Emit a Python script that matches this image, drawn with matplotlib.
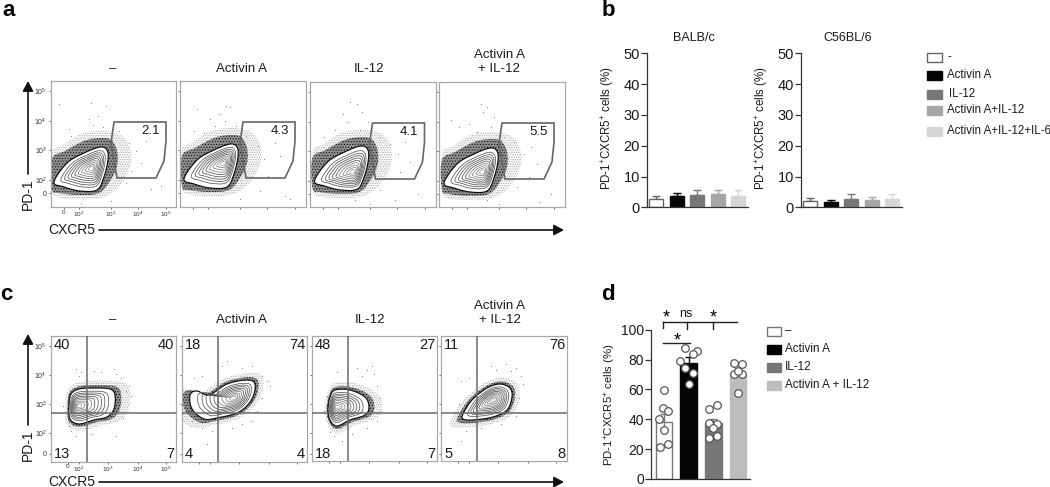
import numpy as np
import matplotlib
matplotlib.use("Agg")
import matplotlib.pyplot as plt
from matplotlib.patches import Polygon, Rectangle

plt.rcParams['font.family'] = ['Liberation Sans', 'DejaVu Sans']
plt.rcParams['mathtext.default'] = 'regular'
plt.rcParams['hatch.linewidth'] = 0.5

W, H = 1050, 487
TXT = '#1a1a1a'

# ---------- data: bar panels ----------
groups_b = ['-', 'Activin A', 'IL-12', 'Activin A+IL-12', 'Activin A+IL-12+IL-6']
balbc_vals = [2.6, 3.6, 4.1, 4.3, 3.8]
balbc_tops = [3.8, 4.7, 5.7, 5.7, 5.7]
c57_vals = [2.0, 1.7, 2.8, 2.5, 2.7]
c57_tops = [2.9, 2.3, 4.2, 3.5, 4.2]
colors_b = ['white', '#050505', '#777777', '#a6a6a6', '#d6d6d6']
edges_b = ['#666666', '#050505', '#777777', '#a6a6a6', '#d6d6d6']

groups_d = ['–', 'Activin A', 'IL-12', 'Activin A + IL-12']
d_vals = [38.5, 78, 37.5, 71]
d_errs = [5, 3.5, 3, 3.5]
colors_d = ['white', '#050505', '#777777', '#bcbcbc']
edges_d = ['#777777', '#050505', '#777777', '#bcbcbc']
d_pts = [[59.4, 47.3, 45.3, 40, 33, 21.6, 23.7],
         [88, 86, 83.7, 79, 74.3, 71, 63.6],
         [47, 49.5, 37, 37.3, 34.4, 28.8, 27.2],
         [78, 77, 70, 70, 72.5, 57.4]]
d_off = [[0, -.03, .16, -.19, 0, -.17, .16],
         [-.16, .32, .16, -.35, -.16, .16, 0],
         [-.16, .16, .16, -.16, 0, .16, -.16],
         [-.15, .17, -.15, .17, 0, .01]]

# ---------- data: flow panels (positions read in panel pixels) ----------
titles = ['–', 'Activin A', 'IL-12', 'Activin A\n+ IL-12']
a_panels = [(51, 176, 81, 207), (180, 306, 81, 207), (309.5, 436, 82, 207), (439, 565, 82, 207)]
c_panels = [(51, 176, 336, 462), (182, 307, 336, 462), (312, 437, 336, 461), (441, 567, 336, 461)]
a_title_x = [113, 241, 369, 499]
c_title_x = [113, 242, 370, 500]
a_gate_pct = ['2.1', '4.3', '4.1', '5.5']
c_pct = [('40', '40', '13', '7'), ('18', '74', '4', '4'), ('48', '27', '18', '7'), ('11', '76', '5', '8')]

a_gate_x = [63, 115, 115, 113, 105, 66, 60]
a_gate_y = [41, 41, 60, 80, 97, 97, 62]
a_outline_x = [3, 16, 33, 49, 56, 57, 53, 46, 29, 13]
a_outline_y = [101, 82, 72, 66, 69, 79, 96, 109, 110, 106]
a_halo_x = [1, 14, 33, 49, 60, 66, 66, 59, 48, 29, 8, 1]
a_halo_y = [78, 70, 60, 57, 59, 70, 85, 100, 112, 114, 112, 108]
a_wide_x = [1, 12, 30, 50, 68, 78, 80, 70, 52, 28, 6, 1]
a_wide_y = [72, 64, 53, 50, 53, 64, 82, 103, 116, 118, 116, 108]
a_core = [(41, 87), (44, 82), (44, 90), (44, 90)]
a_shift = [(0, 0), (1, -3), (2, -2), (2, 0)]
a_dots = [
    [(8, 23), (40, 22), (55, 25), (47, 35), (38, 38), (42, 44), (20, 55), (18, 48), (68, 50), (78, 62), (85, 70), (90, 82), (95, 60), (80, 90), (75, 102), (100, 108), (110, 105), (30, 122), (60, 120), (52, 46)],
    [(17, 28), (46, 25), (50, 26), (45, 40), (35, 45), (30, 38), (24, 52), (56, 45), (66, 55), (78, 65), (84, 78), (95, 62), (100, 75), (88, 95), (80, 110), (105, 115), (110, 118), (60, 118), (14, 50), (40, 33)],
    [(40, 20), (47, 22), (33, 32), (52, 30), (58, 40), (25, 48), (14, 55), (70, 55), (80, 62), (88, 72), (95, 60), (100, 80), (90, 90), (70, 108), (108, 112), (85, 118), (45, 118), (60, 122), (38, 40), (50, 48)],
    [(42, 22), (44, 30), (48, 25), (12, 38), (20, 45), (55, 35), (30, 42), (65, 55), (75, 60), (85, 72), (92, 65), (98, 82), (90, 95), (78, 105), (112, 112), (100, 120), (48, 118), (60, 122), (38, 50), (52, 45)],
]
c_outline = [
    ([18, 20, 28, 43, 59, 64, 63, 56, 43, 28, 19], [69, 58, 53, 52, 53, 59, 73, 81, 84, 88, 83]),
    ([10, 8, 15, 27, 45, 65, 73, 70, 57, 35, 22], [73, 59, 55, 59, 48, 44, 48, 63, 76, 82, 83]),
    ([18, 23, 38, 53, 57, 53, 38, 25, 18, 16], [61, 54, 54, 61, 71, 79, 84, 90, 84, 73]),
    ([22, 31, 46, 59, 69, 71, 66, 52, 32, 22], [78, 64, 52, 48, 52, 61, 74, 81, 84, 83]),
]
c_core = [(27, 70), (52, 62), (24, 71), (52, 64)]
c_dots = [
    [(25, 33), (30, 36), (43, 35), (63, 33), (65, 38), (70, 42), (75, 55), (78, 50), (72, 82), (20, 95), (25, 100), (18, 90), (40, 98), (65, 100), (28, 40), (50, 36), (12, 70), (80, 60)],
    [(45, 25), (60, 32), (70, 30), (40, 30), (20, 40), (12, 42), (80, 40), (85, 45), (88, 50), (80, 62), (75, 75), (60, 88), (30, 95), (20, 92), (25, 108), (10, 85), (50, 92), (70, 85)],
    [(25, 36), (35, 32), (45, 32), (55, 34), (62, 38), (65, 50), (68, 62), (68, 75), (65, 85), (55, 92), (22, 100), (30, 105), (18, 96), (40, 98), (15, 60), (50, 40), (12, 75), (60, 30)],
    [(20, 45), (28, 42), (50, 30), (65, 28), (70, 35), (80, 40), (82, 48), (78, 62), (75, 80), (60, 88), (40, 92), (20, 105), (25, 95), (18, 68), (15, 85), (35, 38), (75, 32), (55, 34)],
]
contour_levels = [0.82, 0.72, 0.63, 0.54, 0.45, 0.36, 0.27, 0.18]

a_xticks = [13, 28, 60, 87, 115]
a_yticks = [10, 40, 69, 99, 112]
c_xticks = [17, 28, 57, 87, 115]
c_yticks = [10, 39, 68, 97, 118]
xtick_labels = ['0', '$10^2$', '$10^3$', '$10^4$', '$10^5$']
ytick_labels = ['$10^5$', '$10^4$', '$10^3$', '$10^2$', '0']


def rect(l, r, t, b):
    return [l / W, 1 - b / H, (r - l) / W, (b - t) / H]


def smooth(xs, ys, n=14):
    """Closed Catmull-Rom curve through the read outline points."""
    p = np.column_stack([xs, ys]).astype(float)
    out = []
    m = len(p)
    for i in range(m):
        p0, p1, p2, p3 = p[(i - 1) % m], p[i], p[(i + 1) % m], p[(i + 2) % m]
        for t in np.linspace(0, 1, n, endpoint=False):
            out.append(0.5 * (2 * p1 + (p2 - p0) * t + (2 * p0 - 5 * p1 + 4 * p2 - p3) * t ** 2
                              + (3 * p1 - p0 - 3 * p2 + p3) * t ** 3))
    return np.array(out)


def flow_frame(rc, xt, yt, labelled):
    ax = fig.add_axes(rect(*rc))
    ax.set_xlim(0, rc[1] - rc[0])
    ax.set_ylim(rc[3] - rc[2], 0)
    for s in ax.spines.values():
        s.set_color('#a8a8a8')
        s.set_linewidth(0.9)
    ax.set_xticks(xt)
    ax.set_yticks(yt)
    ax.tick_params(length=1.5, width=0.6, color='#555555', pad=1.5, labelsize=5,
                   labelcolor='#333333', labelbottom=labelled, labelleft=labelled)
    ax.tick_params(axis='x', pad=0.3, labelsize=4.6)
    if labelled:
        ax.set_xticklabels(xtick_labels)
        ax.set_yticklabels(ytick_labels)
    return ax


def density(ax, outline, core, wide=None, halo=None, grow=(1.16, 1.4)):
    o = smooth(*outline)
    c = np.array(core, float)
    if wide is None:
        w_pts = c + (o - c) * grow[1]
        h_pts = c + (o - c) * grow[0]
    else:
        w_pts, h_pts = smooth(*wide), smooth(*halo)
    ax.add_patch(Polygon(w_pts, closed=True, fc='#f7f7f7', ec='#aaaaaa', hatch='.......', lw=0, zorder=1))
    ax.add_patch(Polygon(h_pts, closed=True, fc='#8e8e8e', ec='#111111', hatch='......', lw=0, zorder=2))
    ax.add_patch(Polygon(o, closed=True, fc='white', ec='#111111', lw=0.9, zorder=3))
    for k, lev in enumerate(contour_levels):
        pts = c + (o - c) * lev
        ax.add_patch(Polygon(pts, closed=True, fc='none', ec='#555555' if k < 5 else '#808080',
                             lw=0.55, zorder=4))
    inner = c + (o - c) * 0.1
    ax.add_patch(Polygon(inner, closed=True, fc='white', ec='#888888', lw=0.4, zorder=5))


fig = plt.figure(figsize=(W / 100, H / 100), dpi=100)

# ---------- panel a ----------
for i, rc in enumerate(a_panels):
    ax = flow_frame(rc, a_xticks, a_yticks, i == 0)
    dx, dy = a_shift[i]
    density(ax,
            (np.array(a_outline_x) + dx, np.array(a_outline_y) + dy),
            a_core[i],
            (np.clip(np.array(a_wide_x) + dx, 1, None), np.array(a_wide_y) + dy),
            (np.clip(np.array(a_halo_x) + dx, 1, None), np.array(a_halo_y) + dy))
    dots = np.array(a_dots[i])
    ax.scatter(dots[:, 0], dots[:, 1], s=0.6, c='#777777', lw=0, zorder=1)
    ax.add_patch(Polygon(np.column_stack([a_gate_x, a_gate_y]), closed=True, fc='none',
                         ec='#666666', lw=1.2, zorder=6))
    ax.text(109, 50, a_gate_pct[i], ha='right', va='center', fontsize=9.5, color=TXT, zorder=7)

# ---------- panel c ----------
for i, rc in enumerate(c_panels):
    ax = flow_frame(rc, c_xticks, c_yticks, i == 0)
    density(ax, c_outline[i], c_core[i])
    dots = np.array(c_dots[i])
    ax.scatter(dots[:, 0], dots[:, 1], s=0.6, c='#777777', lw=0, zorder=1)
    ax.axvline(36, color='#6a6a6a', lw=1.1, zorder=6)
    ax.axhline(77, color='#6a6a6a', lw=1.1, zorder=6)
    tl, tr, bl, br = c_pct[i]
    ax.text(3, 9, tl, ha='left', va='center', fontsize=10.5, color=TXT, zorder=7)
    ax.text(rc[1] - rc[0] - 2, 9, tr, ha='right', va='center', fontsize=10.5, color=TXT, zorder=7)
    ax.text(3, 118, bl, ha='left', va='center', fontsize=10.5, color=TXT, zorder=7)
    ax.text(rc[1] - rc[0] - 2, 118, br, ha='right', va='center', fontsize=10.5, color=TXT, zorder=7)


# ---------- panel b ----------
def bar_panel(l, r, t, b, vals, tops):
    ax = fig.add_axes(rect(l, r, t, b))
    x = np.arange(len(vals))
    ax.bar(x, vals, width=0.68, color=colors_b, edgecolor=edges_b, linewidth=1.0, zorder=2)
    for xi, v, tp, ec in zip(x, vals, tops, edges_b):
        ax.errorbar(xi, v, yerr=[[0], [tp - v]], color=ec, capsize=3.2, lw=1.0, capthick=1.0, zorder=1)
    ax.set_xlim(-0.475, 4.475)
    ax.set_ylim(0, 50)
    ax.set_xticks([])
    ax.set_yticks(range(0, 51, 10))
    ax.tick_params(axis='y', labelsize=10.5, length=4, width=0.9, pad=1, color='#333333', labelcolor=TXT)
    for s in ('top', 'right'):
        ax.spines[s].set_visible(False)
    for s in ('left', 'bottom'):
        ax.spines[s].set_color('#333333')
        ax.spines[s].set_linewidth(0.9)
    ax.set_ylabel('PD-1$^{+}$CXCR5$^{+}$ cells (%)', fontsize=8.3, color=TXT)
    ax.yaxis.set_label_coords(-0.303, 0.515)
    return ax


bar_panel(646.7, 748, 53.3, 207.3, balbc_vals, balbc_tops)
bar_panel(800.7, 902, 53.3, 207.3, c57_vals, c57_tops)

# ---------- panel d ----------
ax = fig.add_axes(rect(651, 750, 329.7, 479))
x = np.arange(len(d_vals))
ax.bar(x, d_vals, width=0.68, color=colors_d, edgecolor=edges_d, linewidth=1.0, zorder=2)
for xi, v, e, ec in zip(x, d_vals, d_errs, edges_d):
    ax.errorbar(xi, v, yerr=e, color=ec, capsize=3.2, lw=1.0, capthick=1.0, zorder=3)
for xi, pts, off in zip(x, d_pts, d_off):
    ax.scatter(xi + np.array(off), pts, s=30, fc='white', ec='#555555', lw=0.9, zorder=4, clip_on=False)
ax.set_xlim(-0.527, 3.486)
ax.set_ylim(0, 100)
ax.set_xticks([])
ax.set_yticks(range(0, 101, 20))
ax.tick_params(axis='y', labelsize=10, length=4, width=0.9, pad=1, color='#333333', labelcolor=TXT)
for s in ('top', 'right'):
    ax.spines[s].set_visible(False)
for s in ('left', 'bottom'):
    ax.spines[s].set_color('#333333')
    ax.spines[s].set_linewidth(0.9)
ax.set_ylabel('PD-1$^{+}$CXCR5$^{+}$ cells (%)', fontsize=8.2, color=TXT)
ax.yaxis.set_label_coords(-0.333, 0.5)

# ---------- overlay in figure pixels ----------
ov = fig.add_axes([0, 0, 1, 1], zorder=20)
ov.set_xlim(0, W)
ov.set_ylim(H, 0)
ov.axis('off')
ov.patch.set_alpha(0)

for s, px, py in [('a', 9, 11), ('b', 608, 10), ('c', 6, 295), ('d', 608, 294)]:
    ov.text(px, py, s, fontsize=16, fontweight='bold', ha='center', va='center', color='black')

for tx, t in zip(a_title_x, titles):
    ov.text(tx, 75, t, fontsize=9.5, ha='center', va='bottom', color=TXT, linespacing=1.25)
for tx, t in zip(c_title_x, titles):
    ov.text(tx, 326, t, fontsize=9.5, ha='center', va='bottom', color=TXT, linespacing=1.25)

arrow = dict(arrowstyle='-|>,head_width=0.32,head_length=0.6', color='#111111', lw=1.2, shrinkA=0, shrinkB=0)
for yb, yt, ylab, ycx in [(174, 81, 194, 230), (425, 334, 445, 482)]:
    ov.annotate('', xy=(28, yt), xytext=(28, yb), arrowprops=arrow)
    ov.annotate('', xy=(564, ycx), xytext=(99, ycx), arrowprops=arrow)
    ov.text(28, ylab, 'PD-1', rotation=90, fontsize=10, ha='center', va='center', color=TXT)
    ov.text(72, ycx, 'CXCR5', fontsize=10, ha='center', va='center', color=TXT)

ov.text(694, 38, 'BALB/c', fontsize=9, ha='center', va='center', color=TXT)
ov.text(848, 38, 'C56BL/6', fontsize=9, ha='center', va='center', color=TXT)

# legend b
for lab, ly, tx, fc, ec in zip(groups_b, [57, 75, 94, 110, 131],
                               [947, 947, 949, 947, 947], colors_b, edges_b):
    ov.add_patch(Rectangle((927, ly - 4.5), 14.5, 9, fc=fc, ec=ec, lw=1.0))
    ov.text(tx, ly, lab, fontsize=8.3, ha='left', va='center', color=TXT)

# legend d
for lab, ly, fc, ec in zip(groups_d, [331, 349, 367, 385], colors_d, edges_d):
    ov.add_patch(Rectangle((767, ly - 4.5), 13.5, 9, fc=fc, ec=ec, lw=1.0))
    ov.text(785, ly, lab, fontsize=8.4, ha='left', va='center', color=TXT)

# significance brackets d
line = dict(color='#222222', lw=1.0)
ov.plot([663, 737], [321.7, 321.7], **line)
for bx, by in [(663, 328), (687, 328.5), (713, 328.5)]:
    ov.plot([bx, bx], [321.7, by], **line)
ov.plot([663, 690], [342.7, 342.7], **line)
for sx, sy in [(666, 318), (713, 318), (677, 341)]:
    ov.text(sx, sy, '*', fontsize=13, ha='center', va='center', color='black')
ov.text(686, 314, 'ns', fontsize=9, ha='center', va='center', color=TXT)

fig.savefig('out.png', dpi=100)
